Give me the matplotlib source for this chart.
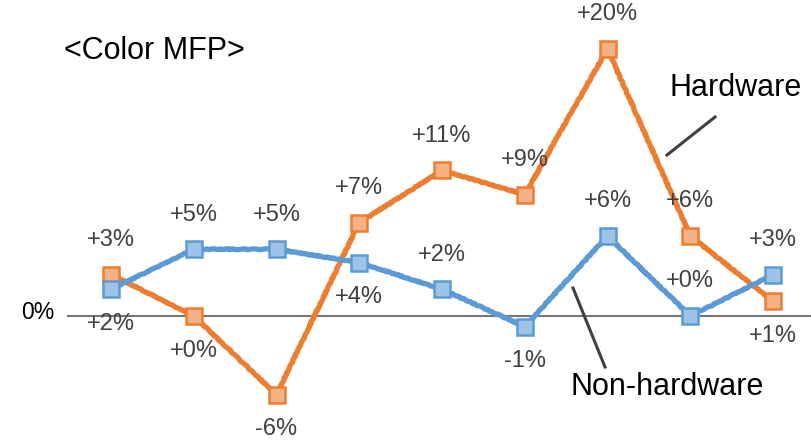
import matplotlib
matplotlib.use("Agg")
import matplotlib.pyplot as plt

# ---- data ----
positions = list(range(9))
hardware = [3.1, 0.0, -5.9, 7.0, 10.9, 9.1, 20.0, 6.0, 1.1]
non_hardware = [2.0, 5.0, 5.0, 4.0, 2.0, -0.8, 6.0, 0.0, 3.1]
hardware_labels = ["+3%", "+0%", "-6%", "+7%", "+11%", "+9%", "+20%", "+6%", "+1%"]
non_hardware_labels = ["+2%", "+5%", "+5%", "+4%", "+2%", "-1%", "+6%", "+0%", "+3%"]
hardware_label_side = [1, -1, -1, 1, 1, 1, 1, 1, -1]      # 1 above, -1 below
non_hardware_label_side = [-1, 1, 1, -1, 1, -1, 1, 1, 1]
title = "<Color MFP>"
zero_label = "0%"

# ---- style ----
ORANGE = "#ED7D31"
ORANGE_FILL = "#F4B183"
BLUE = "#5B9BD5"
BLUE_FILL = "#9DC3E6"
LABEL_COLOR = "#404040"

fig = plt.figure(figsize=(8.12, 4.4), dpi=100)
ax = fig.add_axes([0, 0, 1, 1])
ax.set_xlim(-111 / 82.75, (812 - 111) / 82.75)
ax.set_ylim(-124 / 13.35, 316 / 13.35)
ax.axis("off")

# zero axis line
ax.plot([-0.52, 9.0], [0, 0], color="#767676", lw=1.5, zorder=1)
ax.text(-0.88, 0.25, zero_label, ha="center", va="center",
        fontsize=16.5, family="Liberation Sans", color="black")

def draw_series(vals, color, fill, labels, sides):
    ln, = ax.plot(positions, vals, color=color, lw=3.8, zorder=2,
                  solid_joinstyle="round")
    ln.set_sketch_params(scale=0.4, length=10, randomness=6)
    ax.plot(positions, vals, ls="none", marker="s", markersize=11.5,
            markerfacecolor=fill, markeredgecolor=color, markeredgewidth=1.8,
            zorder=3)
    for x, y, t, s in zip(positions, vals, labels, sides):
        ax.annotate(t, (x, y), xytext=(0, s * 25), textcoords="offset points",
                    ha="center", va="center", fontsize=17,
                    family="Liberation Sans", color=LABEL_COLOR, zorder=4)

draw_series(hardware, ORANGE, ORANGE_FILL, hardware_labels, hardware_label_side)
draw_series(non_hardware, BLUE, BLUE_FILL, non_hardware_labels, non_hardware_label_side)

# title and series callouts (figure pixel coords)
def px(x, y):
    return (x / 812, 1 - y / 440)

fig.text(*px(64, 51), title, ha="left", va="center", fontsize=22,
         family="Liberation Sans", color="black")
fig.text(*px(736, 88), "Hardware", ha="center", va="center", fontsize=22,
         family="Liberation Sans", color="black")
fig.text(*px(667, 387), "Non-hardware", ha="center", va="center", fontsize=22,
         family="Liberation Sans", color="black")

for (x0, y0), (x1, y1) in [((715, 117), (667, 155)), ((573, 288), (605, 367))]:
    a, b = px(x0, y0)
    c, d = px(x1, y1)
    fig.add_artist(plt.Line2D([a, c], [b, d], transform=fig.transFigure,
                              color="#404040", lw=2.2))

fig.savefig("out.png", dpi=100)
